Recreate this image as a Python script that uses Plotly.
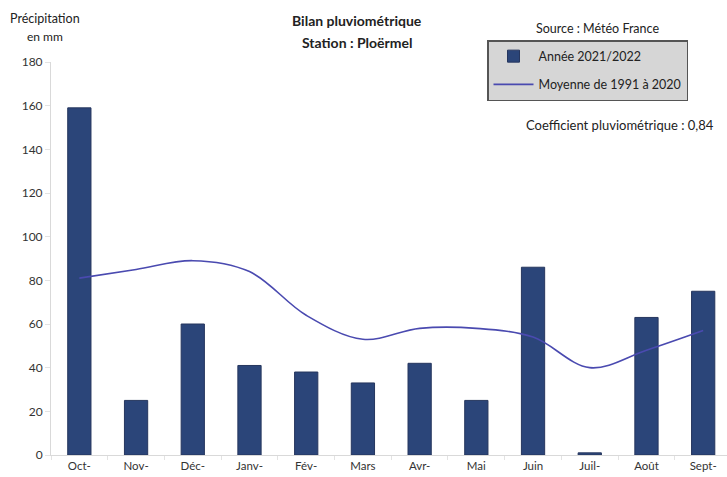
import plotly.graph_objects as go

# Monthly rainfall at Ploërmel, hydrological year Oct 2021 – Sept 2022
mois = ["Oct-", "Nov-", "Déc-", "Janv-", "Fév-", "Mars", "Avr-", "Mai", "Juin", "Juil-", "Août", "Sept-"]
annee_2021_2022 = [159, 25, 60, 41, 38, 33, 42, 25, 86, 1, 63, 75]
moyenne_1991_2020 = [81, 85, 89, 84, 64, 53, 58, 58, 54, 40, 48, 57]
y_ticks = [0, 20, 40, 60, 80, 100, 120, 140, 160, 180]

FONT = "Lato"
BAR = "#2B4579"
LINE = "#4A4AB0"

W, H = 727, 477
ML, MR, MT, MB = 51, 0, 62, 22
pw = W - ML - MR
ph = H - MT - MB


def px(x):
    return (x - ML) / pw


def py(y):
    return (H - MB - y) / ph


fig = go.Figure()
fig.add_trace(go.Bar(
    x=mois, y=annee_2021_2022, name="Année 2021/2022",
    marker=dict(color=BAR, line=dict(color="#26365E", width=1)),
    width=0.41, legendgroup="a",
))
fig.add_trace(go.Scatter(
    x=mois, y=moyenne_1991_2020, name="Moyenne de 1991 à 2020",
    mode="lines", line=dict(color=LINE, width=1.6, shape="spline", smoothing=1.0),
    legendgroup="b",
))

fig.update_layout(
    width=W, height=H,
    margin=dict(l=ML, r=MR, t=MT, b=MB),
    paper_bgcolor="white", plot_bgcolor="white",
    font=dict(family=FONT, size=11, color="#333333"),
    showlegend=True,
    legend=dict(
        x=px(487), y=py(40), xanchor="left", yanchor="top",
        bgcolor="#D6D6D6", bordercolor="#555555", borderwidth=1.5,
        font=dict(family=FONT, size=12.5, color="#222222"),
        tracegroupgap=9, itemwidth=40,
    ),
)

fig.update_xaxes(
    range=[-0.5, 11.42],
    showline=True, linecolor="#D9D9D9", linewidth=1,
    ticks="outside", tickson="boundaries", ticklen=4, tickcolor="#E3E3E3",
    showgrid=False,
    tickfont=dict(family=FONT, size=11.5, color="#333333"),
)
fig.update_yaxes(
    range=[0, 180], tickvals=y_ticks,
    showline=True, linecolor="#D9D9D9", linewidth=1,
    ticks="outside", ticklen=5, tickcolor="#E3E3E3",
    showgrid=False, zeroline=False,
    tickfont=dict(family=FONT, size=12, color="#333333"),
)

annotations = [
    dict(text="<b>Bilan pluviométrique</b>", x=357, y=20, size=14),
    dict(text="<b>Station : Ploërmel</b>", x=357, y=43, size=14),
    dict(text="Précipitation", x=45, y=18, size=12.5),
    dict(text="en mm", x=45, y=37, size=12),
    dict(text="Source : Météo France", x=597, y=28, size=12.5),
    dict(text="Coefficient pluviométrique : 0,84", x=620, y=125, size=13),
]
for a in annotations:
    fig.add_annotation(
        text=a["text"], xref="paper", yref="paper",
        x=px(a["x"]), y=py(a["y"]),
        xanchor="center", yanchor="middle", showarrow=False,
        font=dict(family=FONT, size=a["size"], color="#222222"),
    )

fig.write_html("out.html")
